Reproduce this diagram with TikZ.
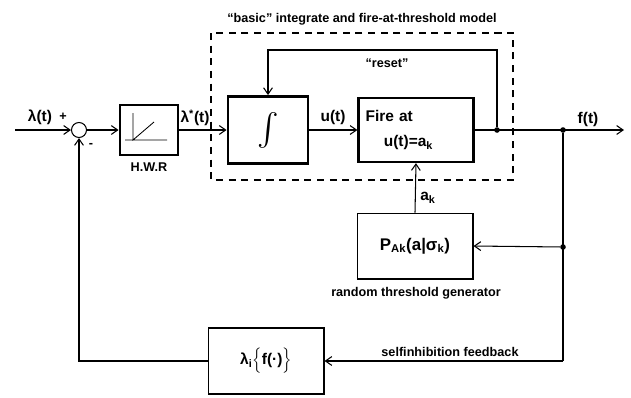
\documentclass[tikz,border=0pt]{standalone}
\usepackage{fontspec}
\setmainfont{Liberation Sans}
\usetikzlibrary{positioning,arrows.meta,calc}

\begin{document}
\begin{tikzpicture}[x=0.025cm,y=-0.025cm,font=\bfseries\fontsize{9}{11}\selectfont,align=center,
  blk/.style={draw=black,line width=1.4pt,fill=white,inner sep=3pt},
  arr/.style={-{Straight Barb[length=1.6mm,width=2.2mm]},line width=.75pt},
  ln/.style={line width=.75pt},
  dot/.style={circle,fill=black,inner sep=0pt,minimum size=1.4mm},
  big/.style={font=\bfseries\fontsize{11}{13}\selectfont}]
\useasboundingbox (0,0) rectangle (631,397);
% dashed frame of the basic model
\draw[line width=.8pt,dash pattern=on 5pt off 4pt] (211,33) rectangle (513,180);
\node at (362,19) {``basic'' integrate and fire-at-threshold model};
% main path
\coordinate (in) at (15,130);
\node[draw,circle,line width=.75pt,minimum size=.375cm,inner sep=0pt] (sum) at (79,130) {};
\node[blk,line width=2pt,minimum width=1.45cm,minimum height=1.25cm] (hwr) at (149,130) {};
\draw[line width=.6pt] (125,140) -- (167,140) (133,113) -- (133,140) -- (154,122);
\node[blk,line width=2pt,minimum width=2cm,minimum height=1.675cm,inner sep=0pt] (integ) at (268,130)
  {\scalebox{2.3}{$\int$}};
\node[blk,line width=1.6pt,inner sep=5pt,text width=2.52cm,minimum height=1.6cm,align=left,big] (fire) at (416,130)
  {Fire at\\[5pt]\hspace*{13pt}u(t)=a\textsubscript{k}};
\node[blk,minimum width=2.875cm,minimum height=1.625cm,font=\bfseries\fontsize{12}{14}\selectfont] (pgen) at (415,246)
  {P\textsubscript{Ak}(a|σ\textsubscript{k})};
\node[blk,minimum width=2.875cm,minimum height=1.65cm,big] (lam) at (266,361)
  {λ\textsubscript{i}$\Bigl\{$f(·)$\Bigr\}$};
\node[dot] (jr) at (497,130) {};
\node[dot] (jo) at (563,130) {};
\node[dot] (jp) at (563,247) {};
\coordinate (out) at (624,130);
\coordinate (rst) at (497,50);
\coordinate (fb) at (563,361);
% connectors
\draw[arr] (in) -- (sum.west);
\draw[arr] (sum.east) -- (hwr.west);
\draw[arr] (hwr.east) -- (integ.west);
\draw[arr] (integ.east) -- (fire.west);
\draw[arr] (fire.east) -- (out);
\draw[arr] (jr) -- (rst) -| (integ.north);
\draw[arr] (pgen.north) -- (fire.south);
\draw[arr] (jp) -- (pgen.east);
\draw[ln] (jo) -- (fb);
\draw[arr] (fb) -- (lam.east);
\draw[arr] (lam.west) -| (sum.south);
% labels
\node[big] at (40,117) {λ(t)};
\node at (63,117) {+};
\node at (91,145) {-};
\node at (149,167) {H.W.R};
\node[big] at (195,118) {λ\textsuperscript{*}(t)};
\node[big] at (333,117) {u(t)};
\node at (387,63) {``reset''};
\node[big] at (588,119) {f(t)};
\node[big] at (428,198) {a\textsubscript{k}};
\node at (416,293) {random threshold generator};
\node at (450,352) {selfinhibition feedback};
\end{tikzpicture}
\end{document}
